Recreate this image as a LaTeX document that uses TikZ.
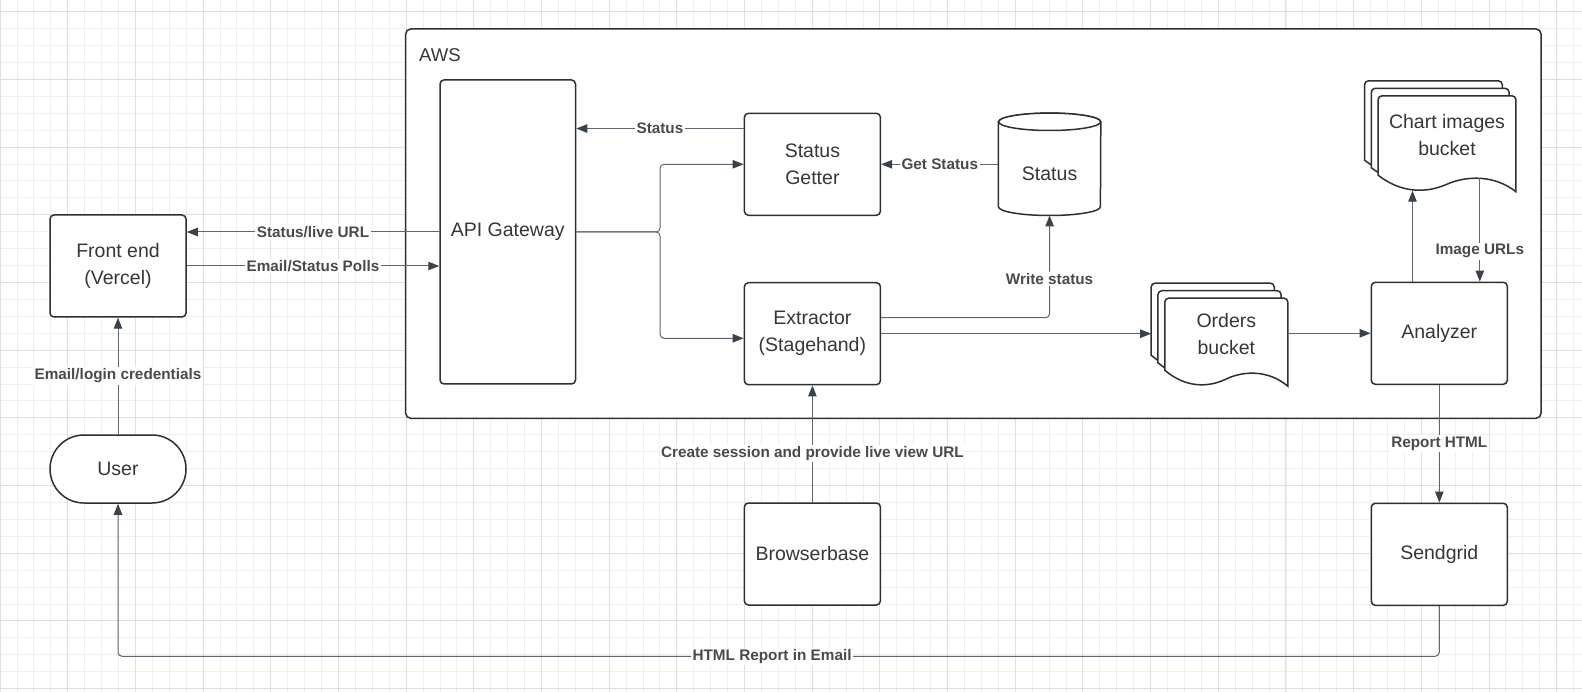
\documentclass[tikz,border=0pt]{standalone}
\usepackage{fontspec}
\setmainfont{Liberation Sans}
\usetikzlibrary{positioning,calc,arrows.meta,backgrounds}

\definecolor{boxcol}{HTML}{2F2F2F}
\definecolor{linecol}{HTML}{5F6670}
\definecolor{tipcol}{HTML}{3A424C}
\definecolor{lblcol}{HTML}{4A4A4A}
\definecolor{txtcol}{HTML}{363636}
\definecolor{gridmin}{HTML}{EFEFEF}
\definecolor{gridmaj}{HTML}{DFDFDF}

\tikzstyle{block} = [rectangle, draw=boxcol, line width=1.5pt, rounded corners=4pt, fill=white,
    text=txtcol, align=center, minimum width=136pt, minimum height=102pt, font=\fontsize{19.5}{27}\selectfont]
\tikzstyle{doc} = [rectangle, text=txtcol, align=center, font=\fontsize{19.5}{27}\selectfont]
\tikzstyle{docline} = [draw=boxcol, line width=1.5pt, fill=white]
\tikzstyle{line} = [draw=linecol, line width=1pt, -{Triangle[length=11pt,width=8.5pt,color=tipcol]}]
\tikzstyle{lbl} = [fill=white, text=lblcol, inner sep=1.5pt, font=\fontsize{15.3}{18}\selectfont\bfseries]

% stack of three documents behind node #1, width #2, wave depth #3
\newcommand{\docstack}[3]{%
  \foreach \k in {2,1,0} {
    \coordinate (sw) at ($(#1.south west)+(-6.8*\k,-7.5*\k)$);
    \coordinate (ne) at ($(#1.north east)+(-6.8*\k,-7.5*\k)$);
    \path[docline] (sw) [rounded corners=4pt] -- (sw |- ne) -- (ne) [sharp corners] -- ($(ne |- sw)+(0,#3)$)
      .. controls ($(sw)+(0.85*#2,0)$) and ($(sw)+(0.65*#2,0)$) .. ($(sw)+(0.5*#2,0.55*#3)$)
      .. controls ($(sw)+(0.35*#2,1.1*#3)$) and ($(sw)+(0.17*#2,1.1*#3)$) .. (sw) -- cycle;
  }
}

\begin{document}
\begin{tikzpicture}[x=1pt,y=-1pt,node distance=200pt]
    \useasboundingbox (0,0) rectangle (1582,692);

    % grid paper and AWS group
    \begin{scope}[on background layer]
      \fill[white] (0,0) rectangle (1582,692);
      \foreach \i in {0,...,93} \draw[gridmin, line width=0.8pt] (16.92*\i,0) -- (16.92*\i,692);
      \foreach \i in {0,...,40} \draw[gridmin, line width=0.8pt] (0,11.7+16.92*\i) -- (1582,11.7+16.92*\i);
      \foreach \i in {0,...,23} \draw[gridmaj, line width=0.9pt] (67.68*\i,0) -- (67.68*\i,692);
      \foreach \i in {0,...,10} \draw[gridmaj, line width=0.9pt] (0,11.7+67.68*\i) -- (1582,11.7+67.68*\i);
      \draw[draw=boxcol, line width=1.5pt, rounded corners=5pt, fill=white] (405.7,29) rectangle (1541,418.3);
    \end{scope}
    \node[anchor=base west, inner sep=0pt, text=txtcol, font=\fontsize{18.5}{22}\selectfont] (aws) at (419,61.7) {AWS};

    \node [block] (fe) at (118,266) {Front end\\(Vercel)};
    \node [block, rounded corners=34pt, minimum height=68pt, node distance=203pt, below of=fe] (user) {User};
    \node [block, minimum width=135.5pt, minimum height=304pt] (api) at (507.75,232) {API Gateway};
    \node [block] (getter) at (812.4,164.3) {Status\\Getter};
    \node [block, node distance=169.4pt, below of=getter] (extractor) {Extractor\\(Stagehand)};
    \node [block, node distance=220.3pt, below of=extractor] (browser) {Browserbase};
    \node [doc, minimum width=102pt, minimum height=102pt, node distance=237.2pt, right of=getter,
      label={[doc, yshift=-9pt]center:Status}] (status) {};
    \node [doc, minimum width=122.7pt, minimum height=71.7pt] (orders) at (1226.3,334.2) {Orders\\bucket};
    \node [doc, minimum width=137.4pt, minimum height=79pt] (chart) at (1447,135.5) {Chart images\\bucket};
    \node [block] (analyzer) at (1439.3,333.3) {Analyzer};
    \node [block, node distance=221pt, below of=analyzer] (sendgrid) {Sendgrid};

    % buckets and database shapes
    \begin{scope}[on background layer]
      \docstack{orders}{122.7}{16}
      \docstack{chart}{137.4}{16.5}
      \path[docline] ($(status.north west)+(0,8.7)$) -- ($(status.south west)+(0,-8.7)$)
        arc[start angle=180, end angle=360, x radius=51pt, y radius=8.7pt]
        -- ($(status.north east)+(0,8.7)$)
        arc[start angle=0, end angle=180, x radius=51pt, y radius=8.7pt] -- cycle;
      \draw[docline] ($(status.north)+(0,8.7)$) ellipse [x radius=51pt, y radius=8.7pt];
    \end{scope}

    \coordinate (statusout) at ([yshift=-16pt]getter.north west);
    \coordinate (extin) at ([yshift=-4.6pt]extractor.west);
    \coordinate (extout) at ([yshift=16pt]extractor.east);
    \coordinate (ordersin) at ([xshift=-13.6pt]orders.west);
    \coordinate (chartin) at ([xshift=34.4pt,yshift=-15.5pt]chart.south west);
    \coordinate (chartout) at ([xshift=101.7pt,yshift=-3pt]chart.south west);

    % Draw edges
    \path [line] (api.west) -- node[lbl] {Status/live URL} (api.west -| fe.east);
    \path [line] (fe.east) -- node[lbl] {Email/Status Polls} (fe.east -| api.west);
    \path [line] (user.north) -- node[lbl] {Email/login credentials} (fe.south);
    \path [line] (statusout) -- node[lbl] {Status} (statusout -| api.east);
    \path [line, rounded corners=4pt] (api.east) --++ (83.8,0) |- (getter.west);
    \path [line, rounded corners=4pt] (api.east) --++ (83.8,0) |- (extin);
    \path [line] (status.west) -- node[lbl] {Get Status} (status.west -| getter.east);
    \path [line, rounded corners=4pt] (extout) -| node[lbl, pos=0.69] {Write status} (status.south);
    \path [line] (extractor.east) -- (extractor.east -| ordersin);
    \path [line] (analyzer.west -| orders.east) -- (analyzer.west);
    \path [line] (chartin |- analyzer.north) -- (chartin);
    \path [line] (chartout) -- node[lbl, pos=0.707] {Image URLs} (chartout |- analyzer.north);
    \path [line] (analyzer.south) -- node[lbl] {Report HTML} (sendgrid.north);
    \path [line] (browser.north) -- node[lbl, pos=0.42] {Create session and provide live view URL} (extractor.south);
    \path [line, rounded corners=4pt] (sendgrid.south) --++ (0,50.2) -| node[lbl, pos=0.2525] {HTML Report in Email} (user.south);

\end{tikzpicture}
\end{document}
